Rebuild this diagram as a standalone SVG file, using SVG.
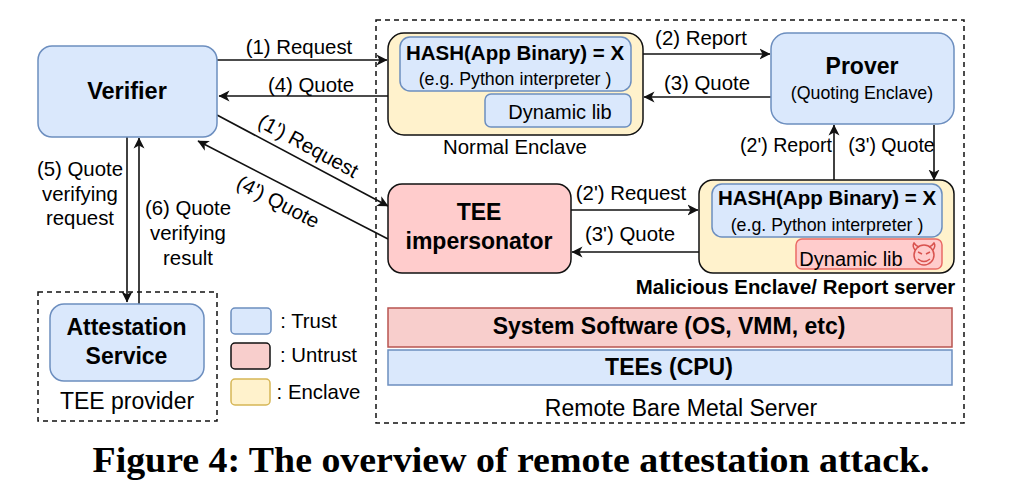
<svg xmlns="http://www.w3.org/2000/svg" width="1015" height="501" viewBox="0 0 1015 501">
<style>
text{font-family:"Liberation Sans",Arial,sans-serif;fill:#000;text-anchor:middle}
.b{font-weight:700}
.lab{font-size:20.4px}.lab2{font-size:19.6px}.hash{font-size:20.5px}.sub{font-size:17.8px}.big{font-size:23px}.dyn{font-size:20px}
.trust{fill:#dae8fc;stroke:#6c8ebf;stroke-width:1.5}
.red{fill:#f8cecc;stroke:#b85450;stroke-width:1.5}
.encl{fill:#fff2cc;stroke:#111;stroke-width:1.5}
.dash{fill:none;stroke:#111;stroke-width:1.5;stroke-dasharray:5 4}
.c{fill:none;stroke:#111;stroke-width:1.6;marker-end:url(#a)}
</style>
<defs><marker id="a" viewBox="0 0 12 12" refX="10.5" refY="6" markerWidth="12" markerHeight="12" markerUnits="userSpaceOnUse" orient="auto"><path d="M0 0.5L11 6L0 11.5L3 6Z" fill="#111"/></marker></defs>
<rect width="1015" height="501" fill="#fff"/>
<g id="boundaries">
<rect id="remote-server-boundary" class="dash" x="376" y="20" width="588" height="403"/>
<rect id="tee-provider-boundary" class="dash" x="38" y="292" width="179" height="129"/>
</g>
<g id="connectors">
<path class="c" d="M217 60H387"/>
<path class="c" d="M388 96H219"/>
<path class="c" d="M643 54H770"/>
<path class="c" d="M771 97H644"/>
<path class="c" d="M834 180V125"/>
<path class="c" d="M934 125V180"/>
<path class="c" d="M217 115L388 206"/>
<path class="c" d="M388 239L198 141"/>
<path class="c" d="M571 210H698"/>
<path class="c" d="M699 252H572"/>
<path class="c" d="M127 137V302"/>
<path class="c" d="M139 304V138"/>
</g>
<g id="connector-labels">
<text class="lab" x="299" y="54">(1) Request</text>
<text class="lab" x="311" y="92">(4) Quote</text>
<text class="lab" x="701" y="45">(2) Report</text>
<text class="lab" x="707" y="90">(3) Quote</text>
<text class="lab2" x="786" y="152">(2') Report</text>
<text class="lab2" x="891.5" y="152">(3') Quote</text>
<text class="lab" x="305" y="152" transform="rotate(28.5 305 152)">(1') Request</text>
<text class="lab" x="275" y="208" transform="rotate(27.5 275 208)">(4') Quote</text>
<text class="lab" x="631" y="200">(2') Request</text>
<text class="lab" x="630" y="241">(3') Quote</text>
<text class="lab"><tspan x="80" y="176">(5) Quote</tspan><tspan x="80" y="201">verifying</tspan><tspan x="80" y="225">request</tspan></text>
<text class="lab"><tspan x="188" y="215">(6) Quote</tspan><tspan x="188" y="240">verifying</tspan><tspan x="188" y="265">result</tspan></text>
</g>
<g id="verifier"><rect class="trust" x="38" y="46" width="179" height="91" rx="14"/><text class="b" font-size="23.5" x="127" y="99">Verifier</text></g>
<g id="normal-enclave">
<rect class="encl" x="388" y="33" width="255" height="102" rx="16"/>
<rect class="trust" x="400" y="37" width="231" height="54" rx="10"/>
<text class="b hash" x="515" y="60">HASH(App Binary) = X</text>
<text class="sub" x="515" y="85">(e.g. Python interpreter )</text>
<rect class="trust" x="485" y="94" width="146" height="33" rx="6"/>
<text class="dyn" x="560" y="119">Dynamic lib</text>
<text class="lab" x="515" y="154">Normal Enclave</text>
</g>
<g id="prover"><rect class="trust" x="771" y="33" width="183" height="91" rx="16"/><text class="b big" x="862" y="74">Prover</text><text class="sub" x="862" y="99">(Quoting Enclave)</text></g>
<g id="tee-impersonator"><rect class="red" style="fill:#ffcccc;stroke:#111" x="388" y="184" width="183" height="89" rx="14"/><text class="b big"><tspan x="479" y="220">TEE</tspan><tspan x="479" y="249">impersonator</tspan></text></g>
<g id="malicious-enclave">
<rect class="encl" x="699" y="180" width="255" height="93" rx="14"/>
<rect class="trust" x="712" y="184" width="230" height="53" rx="10"/>
<text class="b hash" x="827" y="205">HASH(App Binary) = X</text>
<text class="sub" x="827" y="231">(e.g. Python interpreter )</text>
<rect x="796" y="239" width="146" height="30" rx="6" fill="#ffcccc" stroke="#ea6b66" stroke-width="1.5"/>
<text class="dyn" x="851" y="266">Dynamic lib</text>
<g id="devil-icon" fill="none" stroke="#d9534f" stroke-width="1.5">
<circle cx="924" cy="255" r="10" fill="#ffcccc"/>
<path d="M915 250Q912 246 914 243Q916 246 919 247M933 250Q936 246 934 243Q932 246 929 247"/>
<path d="M918 252L922 254M930 252L926 254M918 259Q924 264 930 259"/>
</g>
<text class="b" font-size="20.4" x="795.5" y="294">Malicious Enclave/ Report server</text>
</g>
<g id="system-software"><rect class="red" x="388" y="308" width="564" height="39"/><text class="b big" x="669" y="334">System Software (OS, VMM, etc)</text></g>
<g id="tees"><rect class="trust" x="388" y="350" width="564" height="35"/><text class="b big" x="669" y="375">TEEs (CPU)</text></g>
<text id="remote-server-label" class="big" x="681" y="416">Remote Bare Metal Server</text>
<g id="attestation-service"><rect class="trust" x="50" y="304" width="154" height="77" rx="14"/><text class="b big"><tspan x="126.5" y="335">Attestation</tspan><tspan x="126.5" y="364">Service</tspan></text></g>
<text id="tee-provider-label" class="big" x="127" y="409">TEE provider</text>
<g id="legend">
<rect class="trust" x="231" y="308" width="40" height="26" rx="4"/><text class="lab" x="308.5" y="328">: Trust</text>
<rect x="231" y="343" width="39" height="26" rx="4" fill="#f8cecc" stroke="#111" stroke-width="1.5"/><text class="lab" x="318.5" y="362">: Untrust</text>
<rect x="231" y="379" width="39" height="26" rx="4" fill="#fff2cc" stroke="#d6b656" stroke-width="1.5"/><text class="lab" x="318.5" y="399">: Enclave</text>
</g>
<text id="caption" class="b" font-size="35" x="511" y="472" style="font-family:'Liberation Serif','DejaVu Serif',serif" textLength="837" lengthAdjust="spacingAndGlyphs">Figure 4: The overview of remote attestation attack.</text>
</svg>
